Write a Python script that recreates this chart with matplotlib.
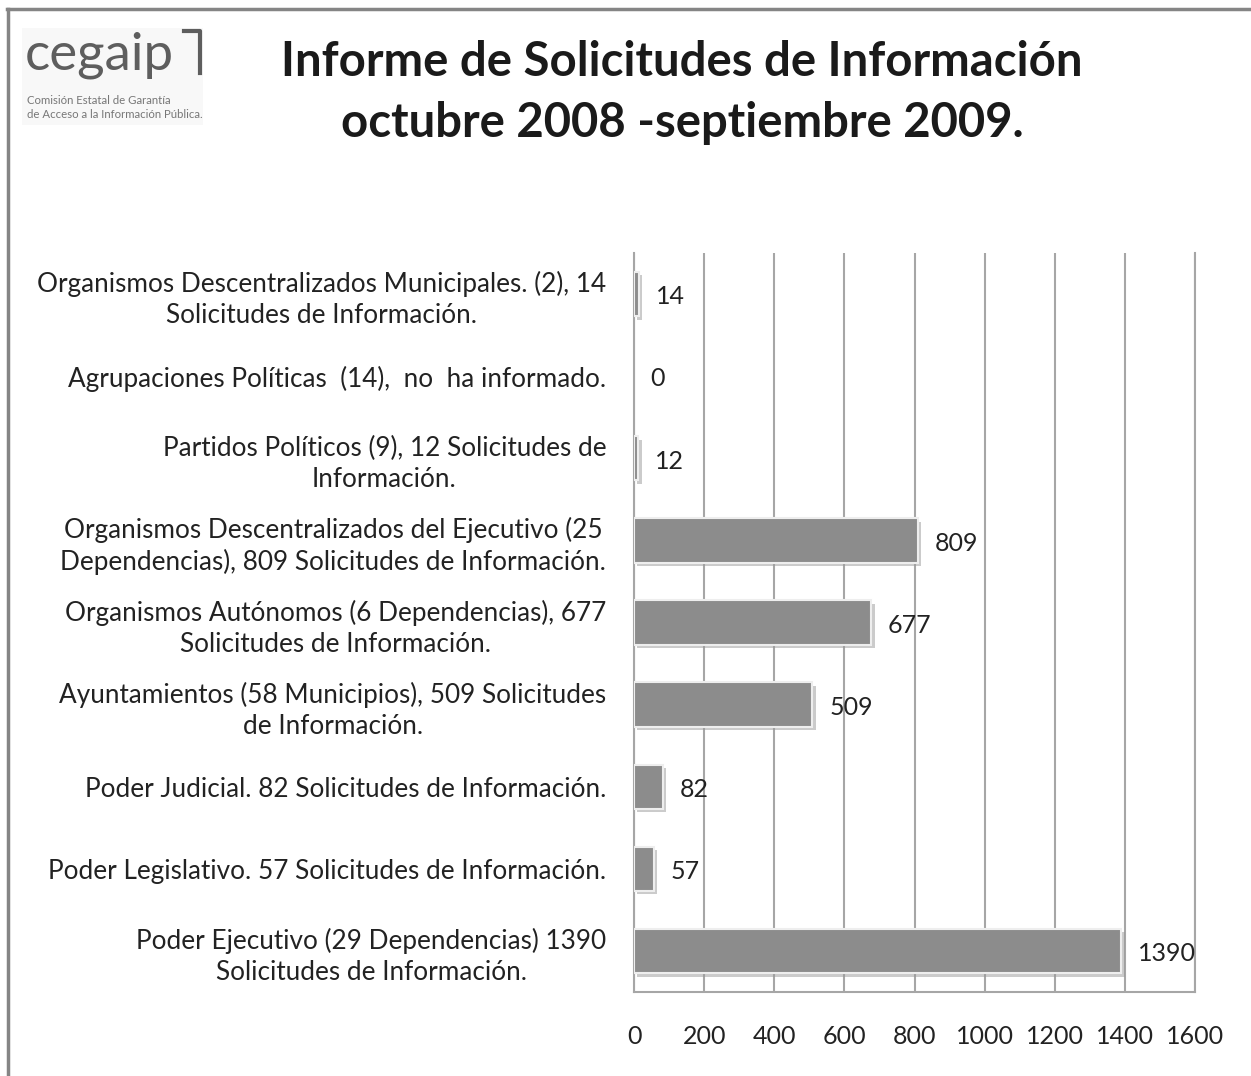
import matplotlib
matplotlib.use("Agg")

import matplotlib.pyplot as plt
import matplotlib.patheffects as pe
from matplotlib.lines import Line2D
from matplotlib.patches import Rectangle

plt.rcParams["font.family"] = ["Lato", "DejaVu Sans"]

# top-to-bottom order as in the picture
categories = [
    "Organismos Descentralizados Municipales. (2), 14\nSolicitudes de Información.",
    "Agrupaciones Políticas  (14),  no  ha informado.",
    "Partidos Políticos (9), 12 Solicitudes de\nInformación.",
    "Organismos Descentralizados del Ejecutivo (25\nDependencias), 809 Solicitudes de Información.",
    "Organismos Autónomos (6 Dependencias), 677\nSolicitudes de Información.",
    "Ayuntamientos (58 Municipios), 509 Solicitudes\nde Información.",
    "Poder Judicial. 82 Solicitudes de Información.",
    "Poder Legislativo. 57 Solicitudes de Información.",
    "Poder Ejecutivo (29 Dependencias) 1390\nSolicitudes de Información.",
]
solicitudes = [14, 0, 12, 809, 677, 509, 82, 57, 1390]
xticks = [0, 200, 400, 600, 800, 1000, 1200, 1400, 1600]

W, H = 1251, 1076
fig = plt.figure(figsize=(W / 100, H / 100), dpi=100)


def fx(px):
    return px / W


def fy(py):
    return 1 - py / H


# outer frame (top and left edges only are visible)
fig.add_artist(Line2D([fx(7), 1], [fy(9), fy(9)], color="#858585", lw=2.5))
fig.add_artist(Line2D([fx(8), fx(8)], [fy(9), 0], color="#858585", lw=2.5))

# logo
fig.add_artist(Rectangle((fx(22), fy(125)), fx(181), fy(28) - fy(125),
                         transform=fig.transFigure, color="#f8f8f8", lw=0))
fig.text(fx(25), fy(55), "cegaip", fontsize=38, color="#5e5e5e",
         va="center", ha="left")
fig.add_artist(Line2D([fx(184), fx(200), fx(200)], [fy(31), fy(31), fy(73)],
                      color="#5e5e5e", lw=3))
fig.text(fx(27), fy(101), "Comisión Estatal de Garantía", fontsize=8.2,
         color="#777777", va="center")
fig.text(fx(27), fy(115), "de Acceso a la Información Pública.", fontsize=8.2,
         color="#777777", va="center")

# title
fig.text(fx(682), fy(62), "Informe de Solicitudes de Información",
         fontsize=34, fontweight="bold", color="#1a1a1a", ha="center", va="center")
fig.text(fx(682), fy(123), "octubre 2008 -septiembre 2009.",
         fontsize=34, fontweight="bold", color="#1a1a1a", ha="center", va="center")

ax = fig.add_axes([fx(634), fy(992), fx(1195) - fx(634), fy(253) - fy(992)])

ypos = list(range(len(categories)))
bars = ax.barh(ypos, solicitudes, height=0.54, color="#8c8c8c",
               edgecolor="#eeeeee", linewidth=1.5, zorder=3)
for b, v in zip(bars, solicitudes):
    if v == 0:
        b.set_visible(False)
    b.set_path_effects([
        pe.SimplePatchShadow(offset=(2.5, -2.5), shadow_rgbFace="#999999", alpha=0.5),
        pe.Normal(),
    ])

for y, v in zip(ypos, solicitudes):
    ax.annotate(str(v), (v, y), xytext=(12, -2), textcoords="offset points",
                va="center", ha="left", fontsize=18, color="#222222", zorder=4)

ax.set_xlim(0, 1600)
ax.set_ylim(len(categories) - 0.5, -0.5)
ax.set_xticks(xticks)
ax.set_xticklabels([str(t) for t in xticks])
ax.set_yticks(ypos)
ax.set_yticklabels(categories, multialignment="center", linespacing=1.3)

ax.tick_params(axis="x", length=0, pad=24, labelsize=18, labelcolor="#222222")
ax.tick_params(axis="y", length=0, pad=20, labelsize=18.8, labelcolor="#222222")

ax.grid(axis="x", color="#a6a6a6", lw=1.5, zorder=0)
ax.set_axisbelow(True)
ax.spines["top"].set_visible(False)
for s in ["left", "bottom", "right"]:
    ax.spines[s].set_color("#a6a6a6")
    ax.spines[s].set_linewidth(1.5)

fig.savefig("out.png", dpi=100)
